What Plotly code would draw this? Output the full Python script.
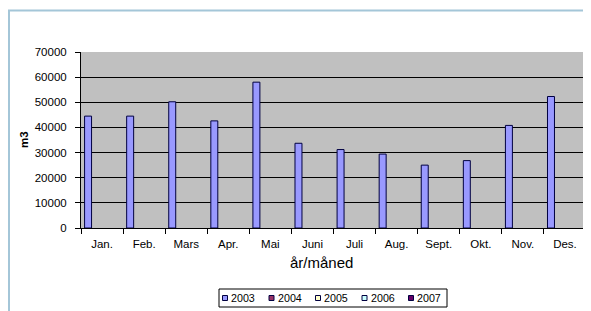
import plotly.graph_objects as go

months = ["Jan.", "Feb.", "Mars", "Apr.", "Mai", "Juni", "Juli", "Aug.", "Sept.", "Okt.", "Nov.", "Des."]
v2003 = [44500, 44500, 50200, 42600, 58000, 33700, 31200, 29400, 25000, 26800, 40800, 52300]
v2004 = [None] * 12
v2005 = [None] * 12
v2006 = [None] * 12
v2007 = [None] * 12
series_names = ["2003", "2004", "2005", "2006", "2007"]
series_vals = [v2003, v2004, v2005, v2006, v2007]
colors = ["#9999FF", "#993366", "#FFFFCC", "#CCFFFF", "#660066"]
x_title = "år/måned"
y_title = "m3"

FONT = "Liberation Sans, Arial, sans-serif"

fig = go.Figure()
for name, vals, c in zip(series_names, series_vals, colors):
    fig.add_trace(go.Bar(
        x=months, y=vals, name=name, showlegend=False,
        marker=dict(color=c, line=dict(color="#000040", width=1)),
    ))

# the page body has an 8px margin: figure origin sits at page (8, 8)
OFF = 8
FIG_W, FIG_H = 591 - OFF, 311 - OFF
# plot area in page pixels: x 81..586, y 52..228
L, R, T, B = 81 - OFF, 586 - OFF, 52 - OFF, 228 - OFF
W, H = R - L, B - T


def px(x):
    return (x - OFF - L) / W


def py(y):
    return (B - (y - OFF)) / H


shapes = [
    dict(type="line", xref="paper", yref="paper", x0=px(8), x1=px(591), y0=py(10.5), y1=py(10.5),
         line=dict(color="#A4C6D8", width=2)),
    dict(type="line", xref="paper", yref="paper", x0=px(9), x1=px(9), y0=py(10), y1=py(311),
         line=dict(color="#A4C6D8", width=2)),
    dict(type="line", xref="paper", yref="paper", x0=px(590), x1=px(590), y0=py(35), y1=py(311),
         line=dict(color="#CCCCCC", width=1)),
    # legend box
    dict(type="rect", xref="paper", yref="paper", x0=px(219), x1=px(447), y0=py(289), y1=py(307),
         line=dict(color="black", width=1), fillcolor="white"),
]

annotations = [
    dict(text=x_title, xref="paper", yref="paper", x=px(321.5), y=py(262), showarrow=False,
         xanchor="center", yanchor="middle", font=dict(size=15)),
    dict(text="<b>" + y_title + "</b>", xref="paper", yref="paper", x=px(24), y=py(140), showarrow=False,
         xanchor="center", yanchor="middle", textangle=-90, font=dict(size=11.5)),
]

# compact legend
item_x0 = 222.5
item_step = 46.5
for i, (name, c) in enumerate(zip(series_names, colors)):
    sx = item_x0 + i * item_step
    shapes.append(dict(type="rect", xref="paper", yref="paper",
                       x0=px(sx), x1=px(sx + 5), y0=py(295.5), y1=py(300.5),
                       line=dict(color="#000040", width=1), fillcolor=c))
    annotations.append(dict(text=name, xref="paper", yref="paper", x=px(sx + 6.5), y=py(298),
                            showarrow=False, xanchor="left", yanchor="middle",
                            font=dict(size=10.7)))

fig.update_layout(
    width=FIG_W, height=FIG_H,
    margin=dict(l=L, r=FIG_W - R, t=T, b=FIG_H - B),
    paper_bgcolor="white",
    plot_bgcolor="#C0C0C0",
    barmode="group",
    bargap=0.17,
    bargroupgap=0,
    font=dict(family=FONT, size=11.5, color="black"),
    shapes=shapes,
    annotations=annotations,
    showlegend=False,
    xaxis=dict(
        automargin=False,
        showline=True, linecolor="black", linewidth=1,
        ticks="outside", tickson="boundaries", ticklen=5, tickcolor="black",
        ticklabelstandoff=5,
        showgrid=False, mirror=False,
    ),
    yaxis=dict(
        automargin=False,
        range=[0, 70000], dtick=10000, tickformat="d",
        showline=True, linecolor="black", linewidth=1,
        ticks="outside", ticklen=5, tickcolor="black",
        ticklabelstandoff=6,
        showgrid=True, gridcolor="black", gridwidth=1,
        zeroline=False,
    ),
)

fig.write_html("out.html")
